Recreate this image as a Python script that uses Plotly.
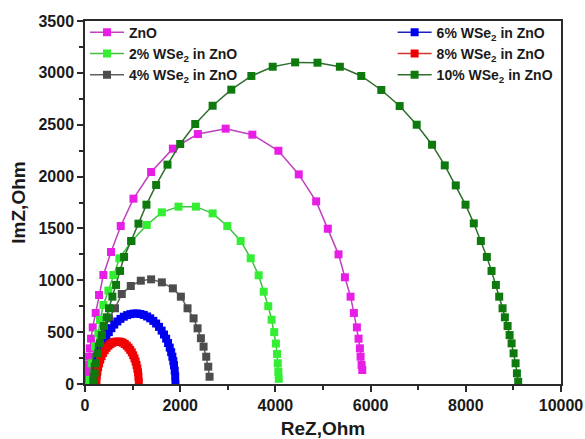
import plotly.graph_objects as go

# ---------------- data ----------------
zno_re = [40, 45, 49, 63, 85, 99, 127, 162, 225, 295, 386, 547, 751, 1018, 1389, 1846, 2372, 2955,
          3516, 4063, 4491, 4856, 5101, 5326, 5460, 5579, 5649, 5712, 5747, 5775, 5789, 5811, 5825]
zno_im = [40, 90, 135, 183, 263, 344, 437, 546, 685, 858, 1051, 1273, 1523, 1787, 2044, 2269, 2410, 2462,
          2404, 2249, 2021, 1761, 1497, 1250, 1029, 842, 685, 546, 437, 344, 263, 183, 135]

w2_re = [100, 105, 140, 211, 281, 316, 386, 491, 596, 723, 983, 1298, 1614, 1965, 2330, 2681, 2989,
         3270, 3481, 3649, 3754, 3850, 3920, 3975, 4010, 4035, 4050, 4062, 4070]
w2_im = [0, 39, 199, 360, 488, 617, 762, 900, 1051, 1212, 1379, 1533, 1655, 1710, 1710, 1645, 1523,
         1379, 1212, 1048, 890, 750, 620, 500, 390, 290, 200, 120, 50]

w4_re = [180, 205, 240, 290, 350, 420, 505, 630, 772, 962, 1172, 1389, 1614, 1846, 2014, 2154, 2281,
         2365, 2435, 2491, 2547, 2589, 2617]
w4_im = [70, 167, 263, 360, 441, 537, 633, 730, 868, 945, 996, 1009, 980, 922, 842, 730, 633,
         537, 441, 360, 263, 167, 70]

w6_re = [230, 240, 255, 275, 300, 330, 365, 405, 450, 500, 555, 615, 680, 745, 815, 885, 955, 1025,
         1095, 1165, 1235, 1305, 1370, 1435, 1495, 1555, 1610, 1660, 1705, 1745, 1780, 1810, 1835,
         1855, 1870, 1885, 1895, 1900]
w6_im = [0, 105, 165, 220, 273, 322, 371, 416, 460, 500, 538, 573, 603, 628, 649, 664, 674, 679,
         680, 675, 666, 651, 633, 609, 583, 551, 515, 477, 437, 395, 351, 307, 263,
         220, 181, 129, 74, 0]

w8_re = [240, 248, 260, 276, 296, 320, 348, 380, 415, 452, 492, 533, 575, 618, 662, 706, 750, 793,
         835, 876, 914, 950, 983, 1013, 1040, 1063, 1083, 1100, 1113, 1123, 1130]
w8_im = [0, 78, 122, 161, 199, 235, 268, 299, 326, 349, 369, 385, 397, 405, 409, 409, 406, 398,
         386, 370, 351, 329, 305, 277, 247, 216, 183, 148, 112, 72, 20]

w10_re = [175, 202, 230, 272, 314, 356, 398, 455, 504, 575, 653, 737, 821, 968, 1123, 1291, 1495,
          1733, 2000, 2316, 2681, 3074, 3495, 3943, 4415, 4884, 5354, 5804, 6225, 6611, 6968, 7291,
          7558, 7789, 7994, 8168, 8316, 8442, 8541, 8632, 8702, 8772, 8821, 8878, 8920, 8962, 9004,
          9046, 9074, 9101]
w10_im = [22, 103, 200, 296, 392, 472, 559, 643, 730, 842, 955, 1090, 1225, 1379, 1546, 1729, 1919,
          2115, 2314, 2507, 2683, 2838, 2970, 3059, 3101, 3098, 3059, 2970, 2835, 2680, 2500, 2307,
          2108, 1915, 1729, 1549, 1379, 1225, 1090, 955, 842, 730, 643, 559, 472, 392, 296,
          200, 103, 22]

x_ticks = [0, 2000, 4000, 6000, 8000, 10000]
x_tick_labels = ["0", "2000", "4000", "6000", "8000", "10000"]
y_ticks = [0, 500, 1000, 1500, 2000, 2500, 3000, 3500]
y_tick_labels = ["0", "500", "1000", "1500", "2000", "2500", "3000", "3500"]

names = ["ZnO", "2% WSe<sub>2</sub> in ZnO", "4% WSe<sub>2</sub> in ZnO",
         "6% WSe<sub>2</sub> in ZnO", "8% WSe<sub>2</sub> in ZnO", "10% WSe<sub>2</sub> in ZnO"]
series = [(zno_re, zno_im), (w2_re, w2_im), (w4_re, w4_im),
          (w6_re, w6_im), (w8_re, w8_im), (w10_re, w10_im)]
marker_colors = ["#E61EE6", "#33EE33", "#4D4D4D", "#0000F0", "#F00000", "#0E7A0E"]
line_colors = ["#C040C0", "#40C040", "#606060", "#2020C0", "#D03030", "#2E6E2E"]
legends = ["legend", "legend", "legend", "legend2", "legend2", "legend2"]

FONT = "Arial, Liberation Sans, sans-serif"

fig = go.Figure()
for (x, y), nm, mc, lc, lg in zip(series, names, marker_colors, line_colors, legends):
    fig.add_trace(go.Scatter(
        x=x, y=y, name=nm, mode="lines+markers",
        line=dict(color=lc, width=1.5),
        marker=dict(symbol="square", size=8, color=mc),
        legend=lg,
    ))

axis_common = dict(
    showgrid=False, zeroline=False, showline=True, linecolor="#2a2a2a", linewidth=1.5,
    mirror=True, ticks="outside", ticklen=6, tickwidth=1.5, tickcolor="#2a2a2a",
    tickfont=dict(family=FONT, size=16, color="#1a1a1a", weight="bold"),
    ticklabeloverflow="allow",
    automargin=False,
)

fig.update_xaxes(
    range=[0, 10000], tickmode="array", tickvals=x_ticks, ticktext=x_tick_labels,
    minor=dict(ticks="outside", ticklen=4, tickwidth=1.5, tickcolor="#2a2a2a", dtick=1000, tick0=0),
    title=dict(text="<b>ReZ,Ohm</b>", font=dict(family=FONT, size=19, color="#1a1a1a"), standoff=14),
    **axis_common,
)
fig.update_yaxes(
    range=[0, 3500], tickmode="array", tickvals=y_ticks, ticktext=y_tick_labels,
    minor=dict(ticks="outside", ticklen=4, tickwidth=1.5, tickcolor="#2a2a2a", dtick=250, tick0=0),
    title=dict(text="<b>ImZ,Ohm</b>", font=dict(family=FONT, size=19, color="#1a1a1a"), standoff=8),
    **axis_common,
)

leg_common = dict(
    bgcolor="rgba(0,0,0,0)", borderwidth=0,
    font=dict(family=FONT, size=14, color="#1a1a1a", weight="bold"),
    itemwidth=34, tracegroupgap=0,
)
fig.update_layout(
    width=585, height=439,
    margin=dict(l=85, r=24, t=21, b=55),
    paper_bgcolor="white", plot_bgcolor="white",
    showlegend=True,
    legend=dict(x=0.0, y=1.012, xanchor="left", yanchor="top", **leg_common),
    legend2=dict(x=0.995, y=1.012, xanchor="right", yanchor="top", **leg_common),
)

fig.write_html("out.html", config={"displayModeBar": False},
               post_script="document.body.style.margin='0px';")
